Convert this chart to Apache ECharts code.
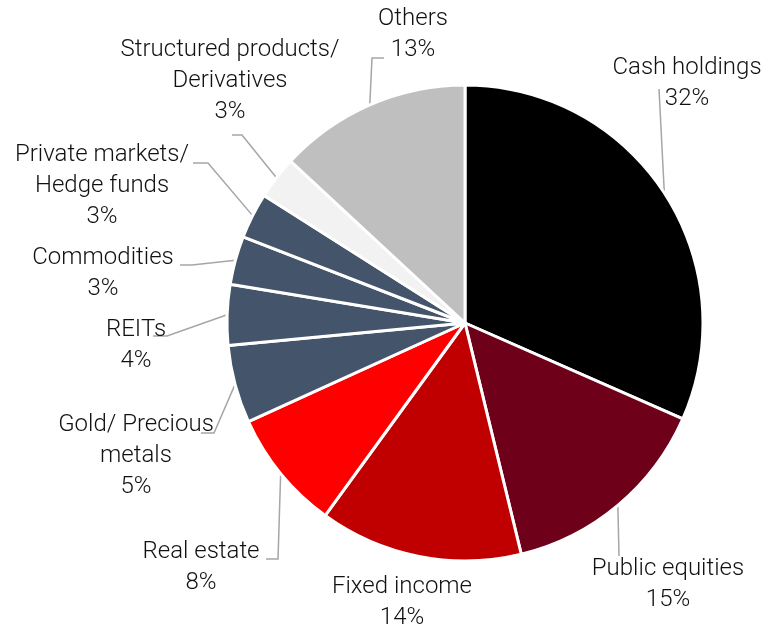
<!DOCTYPE html>
<html>
<head>
<meta charset="utf-8">
<script src="https://cdn.jsdelivr.net/npm/echarts@6/dist/echarts.min.js"></script>
<style>
  html, body { margin: 0; padding: 0; background: #fff; }
  #main { width: 766px; height: 631px; }
</style>
</head>
<body>
<div id="main"></div>
<script>
// categories, clockwise from 12 o'clock
var categories = ['Cash holdings', 'Public equities', 'Fixed income', 'Real estate',
  'Gold/ Precious\nmetals', 'REITs', 'Commodities', 'Private markets/\nHedge funds',
  'Structured products/\nDerivatives', 'Others'];
var shares = [31.6, 14.6, 13.8, 8.2, 5.3, 4.1, 3.3, 3.1, 2.9, 13.1];

var sliceColors = ['#000000', '#6e0019', '#c00000', '#ff0000', '#44546a',
  '#44546a', '#44546a', '#44546a', '#f2f2f2', '#bfbfbf'];

// where each label sits (text block centre) and the bend points of its leader line
var labelSpots = [
  { pos: [687, 83],  guide: [[659, 89]] },
  { pos: [668, 584], guide: [[619, 556]] },
  { pos: [402, 602], guide: null },
  { pos: [201, 567], guide: [[278, 559], [266, 559]] },
  { pos: [136, 456], guide: [[214, 433], [201, 433]] },
  { pos: [136, 345], guide: [[167, 336], [153, 336]] },
  { pos: [103, 273], guide: [[192, 265], [180, 265]] },
  { pos: [102, 186], guide: [[208, 163], [193, 163]] },
  { pos: [230, 81],  guide: [[242, 135], [232, 135]] },
  { pos: [413, 34],  guide: [[372, 58], [384, 58]] }
];

var chart = echarts.init(document.getElementById('main'));

var pieData = categories.map(function (name, i) {
  var item = { name: name, value: shares[i], itemStyle: { color: sliceColors[i] } };
  if (!labelSpots[i].guide) item.labelLine = { show: false };
  return item;
});

chart.setOption({
  backgroundColor: '#fff',
  animation: false,
  series: [{
    type: 'pie',
    center: [465, 323],
    radius: 238,
    startAngle: 90,
    clockwise: true,
    avoidLabelOverlap: false,
    itemStyle: { borderColor: '#fff', borderWidth: 3 },
    label: {
      show: true,
      formatter: function (p) {
        return p.name + '\n' + Math.round(p.value) + '%';
      },
      fontFamily: 'Roboto',
      fontWeight: 300,
      fontSize: 24,
      lineHeight: 31,
      color: '#111',
      align: 'center'
    },
    labelLine: {
      show: true,
      length: 10,
      length2: 10,
      lineStyle: { color: '#a6a6a6', width: 1.5 }
    },
    labelLayout: function (params) {
      var spot = labelSpots[params.dataIndex];
      var out = { x: spot.pos[0], y: spot.pos[1], align: 'center', verticalAlign: 'middle' };
      if (spot.guide && params.labelLinePoints) {
        out.labelLinePoints = [params.labelLinePoints[0]].concat(spot.guide);
      }
      return out;
    },
    emphasis: { disabled: true },
    data: pieData
  }]
});
</script>
</body>
</html>
